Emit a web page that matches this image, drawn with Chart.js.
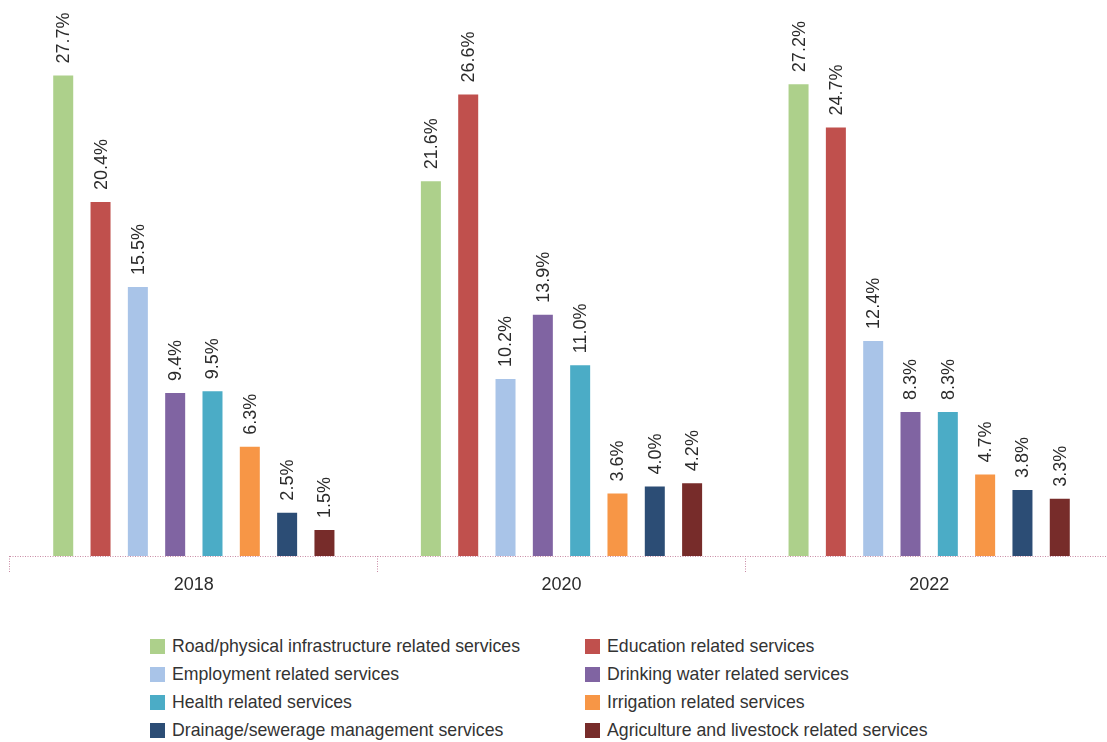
<!DOCTYPE html>
<html>
<head>
<meta charset="utf-8">
<script src="https://cdn.jsdelivr.net/npm/chart.js@4/dist/chart.umd.min.js"></script>
<style>
  html, body { margin: 0; padding: 0; background: #fff; overflow: hidden; }
  body { width: 1107px; height: 742px; position: relative; font-family: "Liberation Sans", Arial, sans-serif; }
  #wrap { position: absolute; left: 0; top: 0; width: 1113px; height: 610px; }
  #legend {
    position: absolute; left: 150px; top: 632px;
    display: grid; grid-template-columns: 435px 480px; grid-auto-rows: 28px;
    font-size: 17.7px; color: #333;
  }
  .item { display: flex; align-items: center; white-space: nowrap; }
  .box { width: 15px; height: 15px; margin-right: 7px; flex: none; }
</style>
</head>
<body>
<div id="wrap"><canvas id="chart"></canvas></div>
<div id="legend"></div>
<script>
// survey years
const years = ['2018', '2020', '2022'];

const services = [
    'Road/physical infrastructure related services',
    'Education related services',
    'Employment related services',
    'Drinking water related services',
    'Health related services',
    'Irrigation related services',
    'Drainage/sewerage management services',
    'Agriculture and livestock related services'
];

// share (%) per service, one value per year
const roadShare = [27.7, 21.6, 27.2];
const educationShare = [20.4, 26.6, 24.7];
const employmentShare = [15.5, 10.2, 12.4];
const waterShare = [9.4, 13.9, 8.3];
const healthShare = [9.5, 11.0, 8.3];
const irrigationShare = [6.3, 3.6, 4.7];
const drainageShare = [2.5, 4.0, 3.8];
const agricultureShare = [1.5, 4.2, 3.3];

const colors = ['#add08b', '#c0504d', '#a9c4e8', '#8064a2', '#4bacc6', '#f79646', '#2c4d75', '#772c2a'];
const series = [roadShare, educationShare, employmentShare, waterShare, healthShare, irrigationShare, drainageShare, agricultureShare];

const FONT = '"Liberation Sans", Arial, sans-serif';
const axisColor = '#c98aa4';

// vertical value labels above each bar
const barLabels = {
    id: 'barLabels',
    afterDatasetsDraw(chart) {
        const ctx = chart.ctx;
        ctx.save();
        ctx.font = '18px ' + FONT;
        ctx.fillStyle = '#2b2b2b';
        ctx.textAlign = 'left';
        ctx.textBaseline = 'middle';
        chart.data.datasets.forEach((ds, i) => {
            chart.getDatasetMeta(i).data.forEach((bar, j) => {
                ctx.save();
                ctx.translate(bar.x + 1, bar.y - 12);
                ctx.rotate(-Math.PI / 2);
                ctx.fillText(ds.data[j].toFixed(1) + '%', 0, 0);
                ctx.restore();
            });
        });
        ctx.restore();
    }
};

// dotted baseline (the built-in border line ignores dashes)
const dottedBaseline = {
    id: 'dottedBaseline',
    afterDraw(chart) {
        const { ctx, chartArea } = chart;
        ctx.save();
        ctx.strokeStyle = axisColor;
        ctx.lineWidth = 1;
        ctx.setLineDash([1, 1.5]);
        ctx.beginPath();
        ctx.moveTo(chartArea.left, Math.round(chartArea.bottom) + 0.5);
        ctx.lineTo(chartArea.right, Math.round(chartArea.bottom) + 0.5);
        ctx.stroke();
        ctx.restore();
    }
};

new Chart(document.getElementById('chart'), {
    type: 'bar',
    data: {
        labels: years,
        datasets: services.map((name, i) => ({
            label: name,
            data: series[i],
            backgroundColor: colors[i],
            categoryPercentage: 0.812,
            barPercentage: 0.536
        }))
    },
    options: {
        responsive: true,
        maintainAspectRatio: false,
        animation: false,
        layout: { padding: { left: 10, right: 0, top: 0, bottom: 0 } },
        plugins: { legend: { display: false }, tooltip: { enabled: false } },
        scales: {
            x: {
                grid: {
                    offset: true,
                    drawOnChartArea: false,
                    tickLength: 16,
                    tickColor: axisColor,
                    tickBorderDash: [1, 1.5],
                    lineWidth: 1
                },
                border: { display: false },
                ticks: { color: '#2b2b2b', padding: 2, font: { size: 18, family: FONT } },
                afterFit(scale) { scale.height = 54; }
            },
            y: { display: false, min: 0, max: 32.05 }
        }
    },
    plugins: [barLabels, dottedBaseline]
});

// two-column legend, row order follows the datasets
const legend = document.getElementById('legend');
services.forEach((name, i) => {
    const item = document.createElement('div');
    item.className = 'item';
    item.innerHTML = '<span class="box" style="background:' + colors[i] + '"></span><span>' + name + '</span>';
    legend.appendChild(item);
});
</script>
</body>
</html>
